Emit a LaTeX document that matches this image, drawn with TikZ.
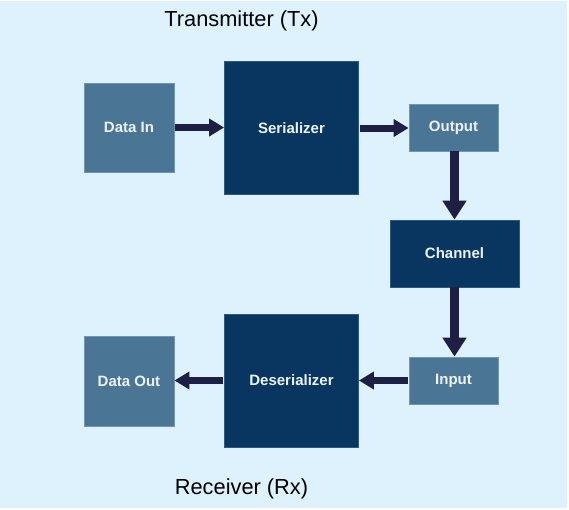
\documentclass[tikz,border=0pt]{standalone}
\usepackage{fontspec}
\setmainfont{Liberation Sans}
\usetikzlibrary{arrows.meta}
\definecolor{bgblue}{HTML}{DDF2FC}
\definecolor{lightbox}{HTML}{4A7594}
\definecolor{lightedge}{HTML}{7396B0}
\definecolor{darkbox}{HTML}{093660}
\definecolor{darkedge}{HTML}{2F5A80}
\definecolor{arrowc}{HTML}{1E1F44}
\definecolor{txt}{HTML}{EEF3F7}
\tikzset{
  lbox/.style={fill=lightbox, draw=lightedge, line width=0.8pt, inner sep=0pt,
    text=txt, font=\bfseries\fontsize{15}{17}\selectfont},
  dbox/.style={fill=darkbox, draw=darkedge, line width=0.8pt, inner sep=0pt,
    text=txt, font=\bfseries\fontsize{15}{17}\selectfont},
  harrow/.style={draw=arrowc, line width=7pt, -{Triangle[length=15pt,width=17pt]}, arrowc},
  varrow/.style={draw=arrowc, line width=9.5pt, -{Triangle[length=19pt,width=23pt]}, arrowc},
  title/.style={font=\fontsize{21.8}{24}\selectfont, text=black}
}
\begin{document}
\begin{tikzpicture}[x=1pt,y=-1pt]
\useasboundingbox (0,0) rectangle (569,509);
\fill[white] (0,0) rectangle (569,509);
\fill[bgblue] (0,0.8) rectangle (567,507.5);
\node[title] (tx) at (241.5,21) {Transmitter (Tx)};
\node[title] (rx) at (241.5,489) {Receiver (Rx)};
\node[lbox, minimum width=90pt, minimum height=89pt] (din) at (129,127.5) {Data In};
\node[dbox, minimum width=134pt, minimum height=133pt] (ser) at (291.5,128) {Serializer};
\node[lbox, minimum width=89pt, minimum height=47pt] (out) at (453.5,128) {Output};
\node[dbox, minimum width=129pt, minimum height=67pt] (ch) at (454.5,253.5) {Channel};
\node[lbox, minimum width=89pt, minimum height=47pt] (in) at (453.5,380.5) {Input};
\node[dbox, minimum width=134pt, minimum height=133pt] (des) at (291.5,380.5) {Deserializer};
\node[lbox, minimum width=90pt, minimum height=90pt] (dout) at (129,381) {Data Out};
\draw[harrow] ([xshift=0.8pt]din.east) -- (din.east -| ser.west);
\draw[harrow] ([xshift=0.8pt]ser.east) -- (ser.east -| out.west);
\draw[varrow] ([yshift=0.8pt]ch.north |- out.south) -- (ch.north);
\draw[varrow] ([yshift=0.8pt]ch.south) -- (ch.south |- in.north);
\draw[harrow] ([xshift=-0.8pt]in.west) -- (in.west -| des.east);
\draw[harrow] ([xshift=-0.8pt]des.west) -- (des.west -| dout.east);
\end{tikzpicture}
\end{document}
